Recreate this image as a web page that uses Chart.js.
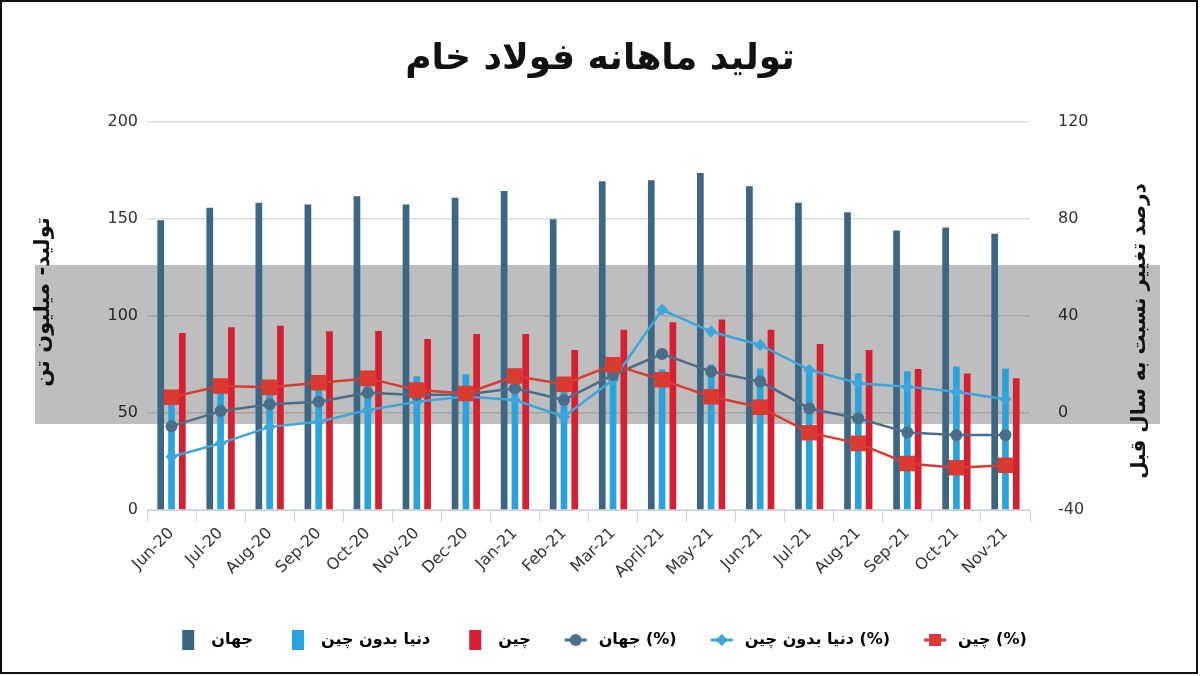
<!DOCTYPE html>
<html>
<head>
<meta charset="utf-8">
<script src="https://cdn.jsdelivr.net/npm/chart.js@4.4.1/dist/chart.umd.min.js"></script>
<style>
  html, body { margin: 0; padding: 0; background: #fff; }
  #wrap { width: 1200px; height: 676px; position: relative; }
</style>
</head>
<body>
<div id="wrap"><canvas id="steel-chart" width="1200" height="676"></canvas></div>
<script>
// months on the x axis
const months = ['Jun-20', 'Jul-20', 'Aug-20', 'Sep-20', 'Oct-20', 'Nov-20', 'Dec-20', 'Jan-21', 'Feb-21',
  'Mar-21', 'April-21', 'May-21', 'Jun-21', 'Jul-21', 'Aug-21', 'Sep-21', 'Oct-21', 'Nov-21'];

// production, million tonnes (left axis)
const worldProd = [149.4, 155.9, 158.5, 157.6, 161.8, 157.6, 161, 164.5, 150, 169.5, 170, 173.8, 167, 158.5, 153.5, 144.2, 145.7, 142.5];
const exChinaProd = [58, 61, 63, 65, 69, 69, 70, 73, 67, 75, 72.5, 75, 73, 72, 70.5, 71.5, 74, 73];
const chinaProd = [91.3, 94.2, 95, 92.2, 92.3, 88.2, 90.8, 90.8, 82.5, 93, 96.8, 98.2, 93, 85.6, 82.5, 72.7, 70.4, 68];

// change vs. same month last year, % (right axis)
const worldPct = [-5.4, 0.8, 3.6, 4.7, 8.4, 7.4, 7.7, 10.2, 5.4, 15.7, 24.4, 17.1, 13, 1.9, -2.2, -8, -9.1, -9.1];
const exChinaPct = [-18, -12.5, -5.7, -3.6, 1.2, 4.7, 6.8, 5.4, -1.5, 13.7, 42.6, 33.6, 28.1, 17.8, 12.3, 10.9, 8.8, 5.7];
const chinaPct = [6.5, 11.2, 10.6, 12.5, 14.3, 9.5, 8.1, 15.3, 11.9, 19.9, 13.7, 6.7, 2.4, -8.1, -12.5, -20.8, -22.6, -21.5];

const leftTicks = [0, 50, 100, 150, 200];
const rightTicks = [-40, 0, 40, 80, 120];

const C_WORLD = '#3d6682';
const C_EXCHINA = '#2aa3dc';
const C_CHINA = '#d42030';
const C_WORLD_LINE = '#4a6e8a';
const C_EXCHINA_LINE = '#3aa6dd';
const C_CHINA_LINE = '#db3a30';

const FONT = "'DejaVu Sans', sans-serif";

// small canvases used as legend symbols
function boxIcon(color) {
  const c = document.createElement('canvas');
  c.width = 30; c.height = 22;
  const g = c.getContext('2d');
  g.fillStyle = color;
  g.fillRect(9, 1, 12, 20);
  return c;
}

function lineIcon(color, shape) {
  const c = document.createElement('canvas');
  c.width = 30; c.height = 22;
  const g = c.getContext('2d');
  g.strokeStyle = color;
  g.fillStyle = color;
  g.lineWidth = 3;
  g.beginPath(); g.moveTo(4, 11); g.lineTo(26, 11); g.stroke();
  g.beginPath();
  if (shape === 'circle') {
    g.arc(15, 11, 6, 0, Math.PI * 2);
  } else if (shape === 'diamond') {
    g.moveTo(15, 5); g.lineTo(21, 11); g.lineTo(15, 17); g.lineTo(9, 11); g.closePath();
  } else {
    g.rect(9, 5, 12, 12);
  }
  g.fill();
  return c;
}

const legendIcons = [
  boxIcon(C_WORLD), boxIcon(C_EXCHINA), boxIcon(C_CHINA),
  lineIcon(C_WORLD_LINE, 'circle'), lineIcon(C_EXCHINA_LINE, 'diamond'), lineIcon(C_CHINA_LINE, 'square')
];

// grey band across the middle of the picture plus the frame and the axis titles
const decorPlugin = {
  id: 'decor',
  beforeDatasetsDraw(chart) {
    const ctx = chart.ctx;
    ctx.save();
    ctx.globalCompositeOperation = 'multiply';
    ctx.fillStyle = '#bebebe';
    ctx.fillRect(35, 265, 1125, 159);
    ctx.restore();
  },
  afterDraw(chart) {
    const ctx = chart.ctx;
    ctx.save();
    ctx.fillStyle = '#111';
    ctx.textAlign = 'center';
    ctx.textBaseline = 'middle';
    ctx.font = 'bold 21px ' + FONT;
    ctx.translate(44, 302);
    ctx.rotate(-Math.PI / 2);
    ctx.fillText('تولید- میلیون تن', 0, 0);
    ctx.restore();

    ctx.save();
    ctx.fillStyle = '#111';
    ctx.textAlign = 'center';
    ctx.textBaseline = 'middle';
    ctx.font = 'bold 20px ' + FONT;
    ctx.translate(1140, 331);
    ctx.rotate(-Math.PI / 2);
    ctx.fillText('درصد تغییر نسبت به سال قبل', 0, 0);
    ctx.restore();

    ctx.save();
    ctx.strokeStyle = '#111';
    ctx.lineWidth = 2;
    ctx.strokeRect(1, 1, 1196, 672);
    ctx.restore();
  }
};

const ctx = document.getElementById('steel-chart').getContext('2d');
const chart = new Chart(ctx, {
  data: {
    labels: months,
    datasets: [
      { type: 'bar', label: 'جهان', data: worldProd, backgroundColor: C_WORLD, yAxisID: 'y', order: 2 },
      { type: 'bar', label: 'دنیا بدون چین', data: exChinaProd, backgroundColor: C_EXCHINA, yAxisID: 'y', order: 2 },
      { type: 'bar', label: 'چین', data: chinaProd, backgroundColor: C_CHINA, yAxisID: 'y', order: 2 },
      {
        type: 'line', label: 'جهان (%)', data: worldPct, yAxisID: 'y1', order: 1,
        borderColor: C_WORLD_LINE, backgroundColor: C_WORLD_LINE, borderWidth: 2.5,
        pointStyle: 'circle', pointRadius: 6, pointBorderWidth: 0, tension: 0
      },
      {
        type: 'line', label: 'دنیا بدون چین (%)', data: exChinaPct, yAxisID: 'y1', order: 1,
        borderColor: C_EXCHINA_LINE, backgroundColor: C_EXCHINA_LINE, borderWidth: 2.5,
        pointStyle: 'rectRot', pointRadius: 6, pointBorderWidth: 0, tension: 0
      },
      {
        type: 'line', label: 'چین (%)', data: chinaPct, yAxisID: 'y1', order: 0,
        borderColor: C_CHINA_LINE, backgroundColor: C_CHINA_LINE, borderWidth: 2.5,
        pointStyle: 'rect', pointRadius: 11, pointBorderWidth: 0, tension: 0
      }
    ]
  },
  options: {
    responsive: false,
    animation: false,
    layout: { padding: { top: 10, left: 0, right: 0, bottom: 18 } },
    datasets: {
      bar: { categoryPercentage: 0.66, barPercentage: 0.62 }
    },
    plugins: {
      title: {
        display: true,
        text: 'تولید ماهانه فولاد خام',
        color: '#111',
        font: { family: FONT, size: 36, weight: 'bold' },
        padding: { top: 28, bottom: 41 }
      },
      legend: {
        position: 'bottom',
        labels: {
          usePointStyle: true,
          pointStyleWidth: 30,
          padding: 30,
          color: '#111',
          font: { family: FONT, size: 16, weight: 'bold' },
          generateLabels(c) {
            return c.data.datasets.map((ds, i) => ({
              text: ds.label,
              pointStyle: legendIcons[i],
              fillStyle: 'transparent',
              strokeStyle: 'transparent',
              lineWidth: 0,
              hidden: false,
              datasetIndex: i
            }));
          }
        }
      },
      tooltip: { enabled: false }
    },
    scales: {
      x: {
        type: 'category',
        offset: true,
        border: { display: true, color: '#c6d2e6', width: 1 },
        grid: { display: true, offset: true, drawOnChartArea: false, tickLength: 12, color: '#c6d2e6' },
        ticks: {
          color: '#333', maxRotation: 45, minRotation: 45, autoSkip: false, padding: 2,
          font: { family: FONT, size: 16 }
        },
        afterFit(scale) { scale.height = 92; }
      },
      y: {
        position: 'left',
        min: 0, max: 200,
        afterBuildTicks(scale) { scale.ticks = leftTicks.map(v => ({ value: v })); },
        border: { display: false },
        grid: { color: '#dcdcdc', lineWidth: 1.5, drawTicks: false },
        ticks: { color: '#333', padding: 9, font: { family: FONT, size: 16 } },
        afterFit(scale) { scale.width = 147; }
      },
      y1: {
        position: 'right',
        min: -40, max: 120,
        afterBuildTicks(scale) { scale.ticks = rightTicks.map(v => ({ value: v })); },
        border: { display: false },
        grid: { drawOnChartArea: false, drawTicks: false },
        ticks: { color: '#333', padding: 28, font: { family: FONT, size: 16 } },
        afterFit(scale) { scale.width = 170; }
      }
    }
  },
  plugins: [decorPlugin]
});
</script>
</body>
</html>
